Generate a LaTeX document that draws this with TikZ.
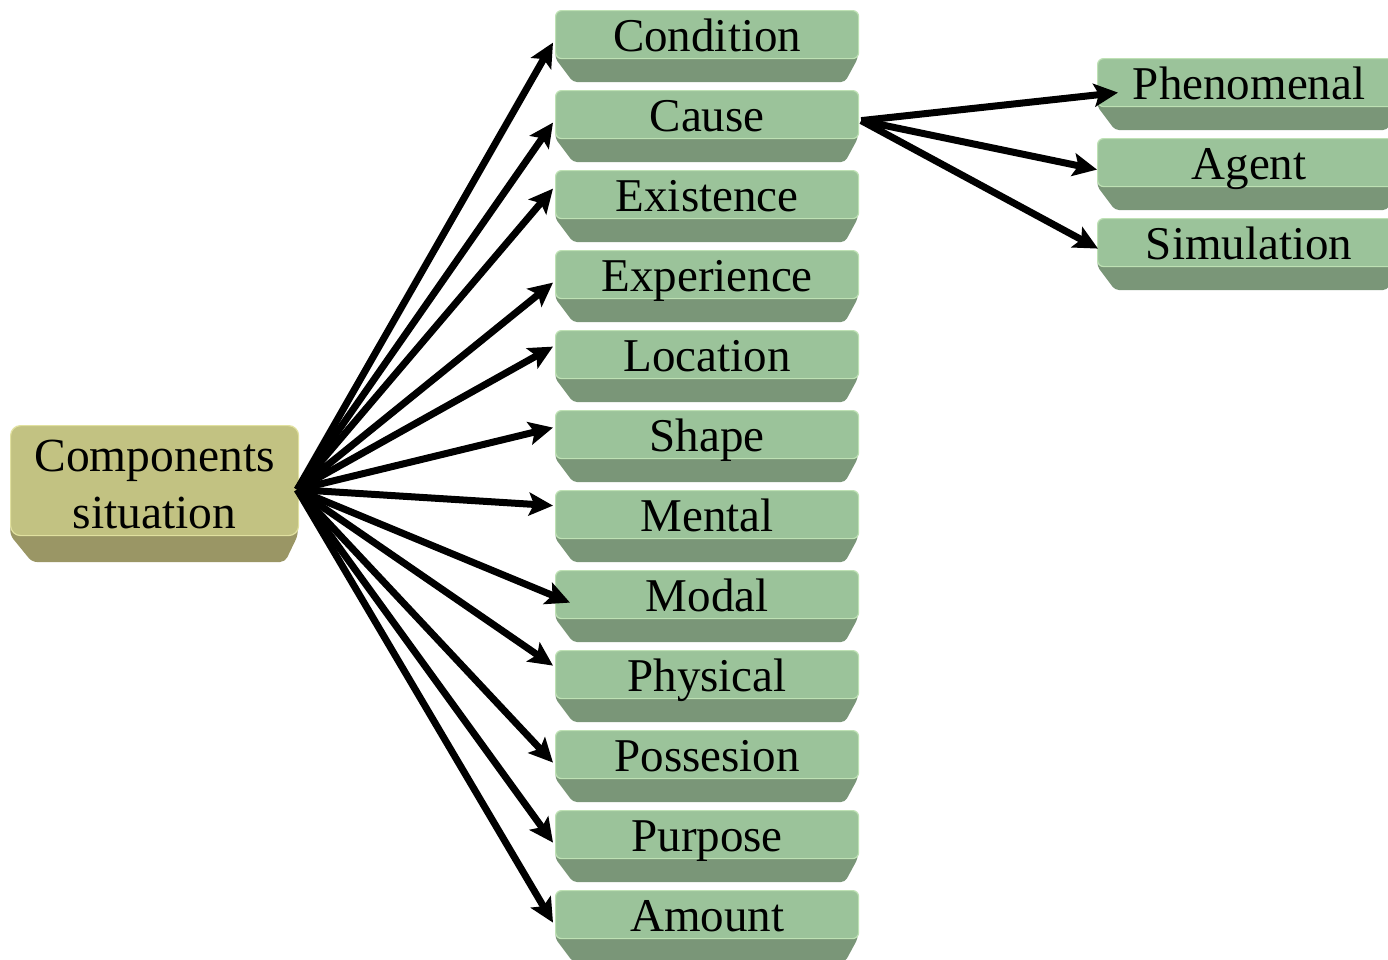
\documentclass[tikz,border=0pt]{standalone}
\usepackage{fontspec}
\setmainfont{Liberation Serif}
\usetikzlibrary{arrows.meta,calc}

\definecolor{gface}{RGB}{155,195,154}
\definecolor{grim}{RGB}{190,225,180}
\definecolor{gbevel}{RGB}{122,150,120}
\definecolor{yface}{RGB}{194,194,130}
\definecolor{yrim}{RGB}{225,225,160}
\definecolor{ybevel}{RGB}{154,150,101}

\tikzset{
  x=1pt, y=-1pt,
  facebox/.style={rectangle, rounded corners=6pt, fill=gface, draw=grim,
    line width=1.2pt, inner sep=0pt, minimum width=303pt, minimum height=48pt,
    anchor=north west, text height=38pt, text depth=4pt,
    font=\fontsize{47}{57}\selectfont},
  bevelgreen/.style={fill=gbevel, rounded corners=4pt},
  link/.style={line width=7pt, -{Stealth[length=24pt,width=23pt,inset=5pt]}},
}

% one green box: bevel underneath, lighter top face on top
% #1 name, #2 left x, #3 top y, #4 label
\newcommand\greenbox[4]{%
  \fill[bevelgreen] (#2+1,#3+40) -- (#2+302,#3+40) -- (#2+303,#3+48)
     -- (#2+290,#3+72) -- (#2+18,#3+72) -- (#2,#3+48) -- cycle;
  \node[facebox] (#1) at (#2,#3) {#4};
}

\begin{document}
\begin{tikzpicture}
\clip (0,0) rectangle (1388,959);
\fill[white] (0,0) rectangle (1388,959);

% root box: bevel, face, then its two-line label
\fill[ybevel, rounded corners=5pt] (11,520) -- (297,520) -- (298,535)
   -- (285,562) -- (32,562) -- (10,535) -- cycle;
\node[rectangle, rounded corners=10pt, fill=yface, draw=yrim, line width=1.2pt,
  inner sep=0pt, minimum width=288pt, minimum height=110pt, anchor=north west]
  (comp) at (10,425) {};
\node[align=center, inner sep=0pt, font=\fontsize{47.5}{57}\selectfont]
  (comptext) at ($(comp.center)+(0,4)$) {Components\\situation};

% middle column
\greenbox{cond}{555}{10}{Condition}
\greenbox{cause}{555}{90}{Cause}
\greenbox{exist}{555}{170}{Existence}
\greenbox{exper}{555}{250}{Experience}
\greenbox{loc}{555}{330}{Location}
\greenbox{shape}{555}{410}{Shape}
\greenbox{mental}{555}{490}{Mental}
\greenbox{modal}{555}{570}{Modal}
\greenbox{phys}{555}{650}{Physical}
\greenbox{poss}{555}{730}{Possesion}
\greenbox{purp}{555}{810}{Purpose}
\greenbox{amount}{555}{890}{Amount}

% right column
\greenbox{phen}{1097}{58}{Phenomenal}
\greenbox{agent}{1097}{138}{Agent}
\greenbox{simul}{1097}{218}{Simulation}

% arrow ends
\coordinate (src) at ($(comp.east)+(-2,9)$);
\coordinate (csrc) at ($(cause.east)+(2,6)$);

\draw[link] (src) -- ($(cond.west)+(-2,8)$);
\draw[link] (src) -- ($(cause.west)+(-2,8)$);
\draw[link] (src) -- ($(exist.west)+(-2,-6)$);
\draw[link] (src) -- ($(exper.west)+(-2,8)$);
\draw[link] (src) -- ($(loc.west)+(-2,-8)$);
\draw[link] (src) -- ($(shape.west)+(-2,-7)$);
\draw[link] (src) -- ($(mental.west)+(-2,-9)$);
\draw[link] (src) -- ($(modal.west)+(15,8)$);
\draw[link] (src) -- ($(phys.west)+(-2,-9)$);
\draw[link] (src) -- ($(poss.west)+(-2,8)$);
\draw[link] (src) -- ($(purp.west)+(-2,8)$);
\draw[link] (src) -- ($(amount.west)+(-2,8)$);

\draw[link] (csrc) -- ($(phen.west)+(21,10)$);
\draw[link] (csrc) -- ($(agent.west)+(0,7)$);
\draw[link] (csrc) -- ($(simul.west)+(1,6)$);
\end{tikzpicture}
\end{document}
